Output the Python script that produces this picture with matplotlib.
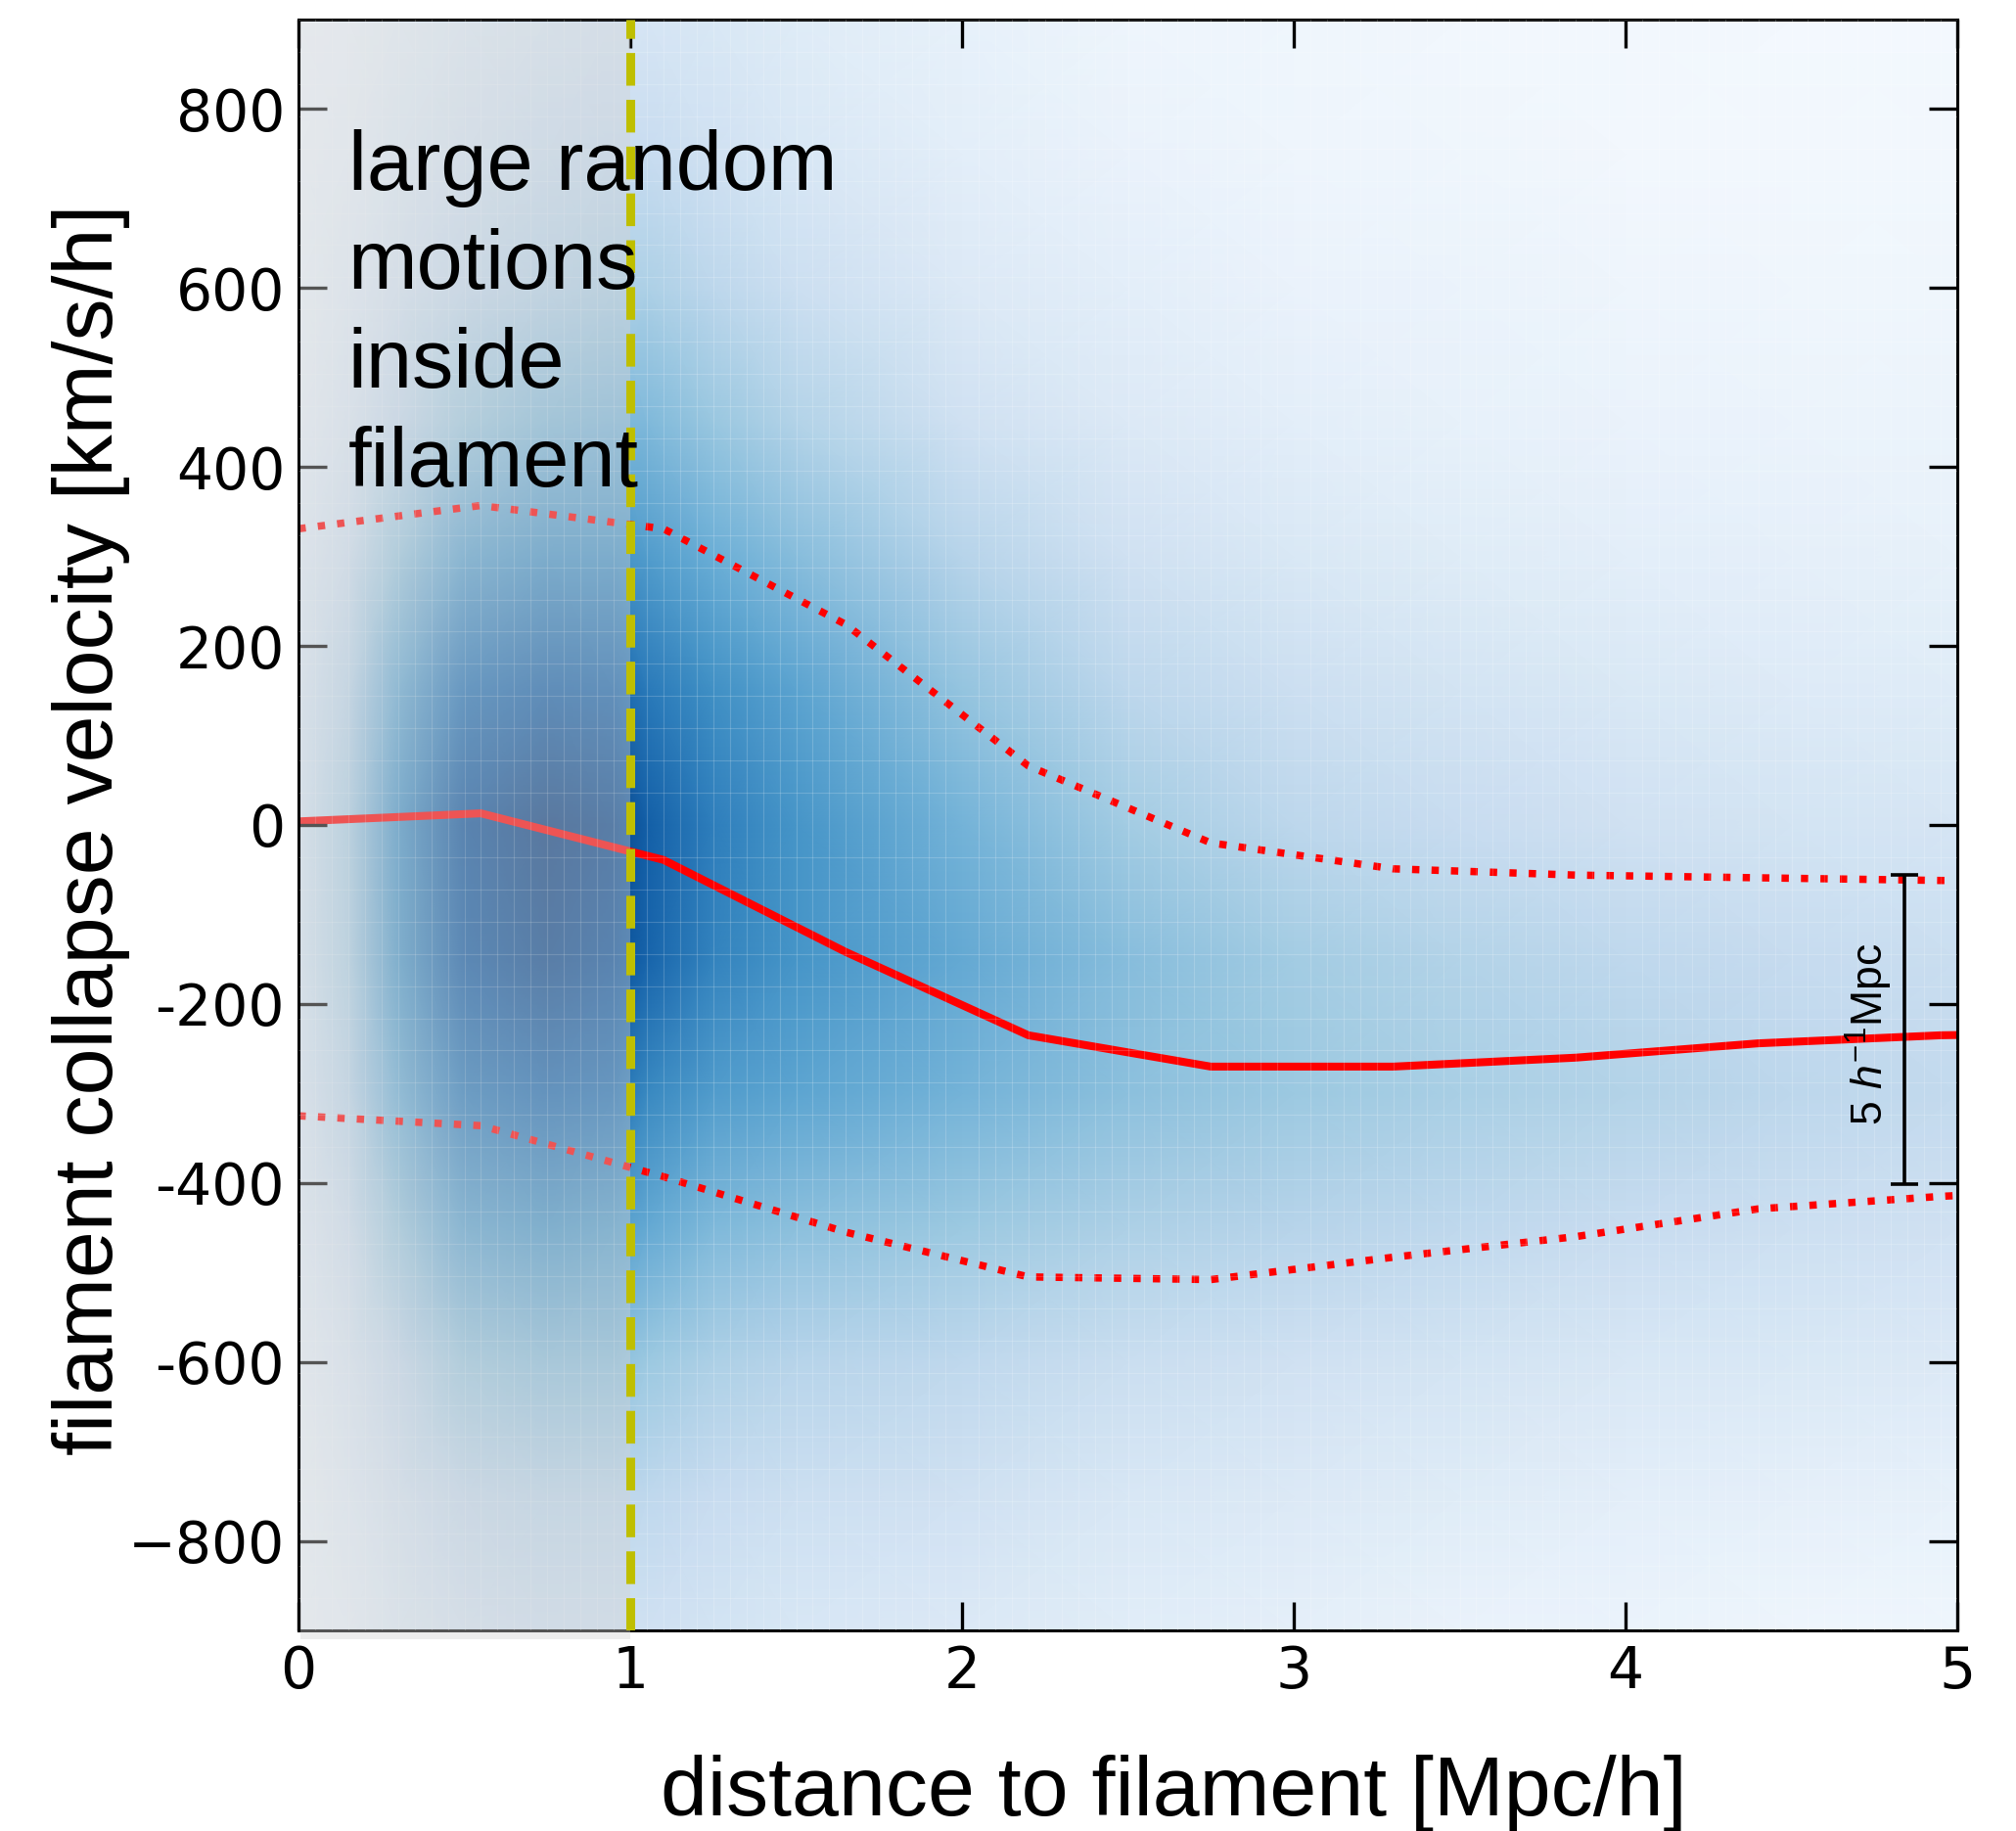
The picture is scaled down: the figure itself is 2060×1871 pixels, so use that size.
import matplotlib
matplotlib.use("Agg")

import matplotlib.pyplot as plt
import matplotlib.transforms as mtransforms
from matplotlib.patches import Rectangle
from matplotlib.ticker import MultipleLocator
import numpy as np


# ======================================================
# Data
# ======================================================

# density of pairs in the (distance, velocity) plane, as a 0..1 shade of Blues
dens_x = [0.0, 0.15, 0.3, 0.5, 0.75, 0.95, 1.05, 1.25, 1.5, 2.0, 2.5, 3.0, 3.5, 4.0, 4.5, 5.0]
dens_v = [-900, -750, -600, -450, -300, -150, 0, 150, 300, 450, 600, 750, 900]
dens = [
    [0.04, 0.07, 0.12, 0.17, 0.20, 0.20, 0.20, 0.18, 0.16, 0.14, 0.11, 0.09, 0.07, 0.06, 0.05, 0.04],
    [0.05, 0.10, 0.17, 0.25, 0.28, 0.28, 0.27, 0.24, 0.22, 0.20, 0.16, 0.14, 0.12, 0.10, 0.09, 0.08],
    [0.07, 0.14, 0.25, 0.38, 0.42, 0.42, 0.38, 0.33, 0.30, 0.27, 0.23, 0.20, 0.18, 0.16, 0.15, 0.14],
    [0.10, 0.20, 0.38, 0.55, 0.60, 0.57, 0.52, 0.45, 0.42, 0.38, 0.33, 0.30, 0.27, 0.24, 0.22, 0.20],
    [0.13, 0.28, 0.50, 0.72, 0.78, 0.75, 0.66, 0.58, 0.54, 0.48, 0.42, 0.38, 0.34, 0.31, 0.28, 0.26],
    [0.15, 0.32, 0.60, 0.85, 0.92, 0.88, 0.80, 0.68, 0.61, 0.52, 0.43, 0.36, 0.31, 0.27, 0.25, 0.23],
    [0.15, 0.33, 0.62, 0.88, 0.95, 0.92, 0.82, 0.70, 0.61, 0.48, 0.36, 0.28, 0.24, 0.20, 0.18, 0.17],
    [0.13, 0.28, 0.52, 0.75, 0.82, 0.80, 0.72, 0.63, 0.55, 0.40, 0.28, 0.22, 0.18, 0.15, 0.13, 0.12],
    [0.10, 0.20, 0.38, 0.55, 0.62, 0.62, 0.58, 0.50, 0.43, 0.30, 0.20, 0.15, 0.12, 0.10, 0.09, 0.08],
    [0.07, 0.14, 0.25, 0.37, 0.44, 0.46, 0.45, 0.39, 0.31, 0.20, 0.14, 0.10, 0.08, 0.07, 0.06, 0.06],
    [0.05, 0.10, 0.17, 0.25, 0.30, 0.33, 0.33, 0.28, 0.22, 0.14, 0.10, 0.07, 0.06, 0.05, 0.04, 0.04],
    [0.04, 0.07, 0.12, 0.17, 0.22, 0.24, 0.24, 0.20, 0.16, 0.10, 0.07, 0.05, 0.04, 0.03, 0.03, 0.03],
    [0.03, 0.05, 0.08, 0.12, 0.15, 0.17, 0.17, 0.15, 0.12, 0.08, 0.05, 0.04, 0.03, 0.03, 0.02, 0.02],
]

# binned mean and +/- 1 sigma of the collapse velocity
dist = [0.0, 0.55, 1.1, 1.65, 2.2, 2.75, 3.3, 3.85, 4.4, 4.95, 5.5]
v_mean = [4, 13, -39, -142, -235, -270, -270, -260, -244, -235, -232]
v_upper = [331, 357, 331, 224, 66, -20, -49, -56, -59, -62, -63]
v_lower = [-325, -336, -393, -455, -505, -508, -483, -460, -429, -415, -405]

filament_radius = 1.0

yticks = [-800, -600, -400, -200, 0, 200, 400, 600, 800]
ytick_labels = ["\u2212800", "-600", "-400", "-200", "0", "200", "400", "600", "800"]
xticks = [0, 1, 2, 3, 4, 5]

# scale bar
bar_x = 4.84
bar_lo, bar_hi = -401, -56


# ======================================================
# Plot
# ======================================================

plt.rcParams["mathtext.fontset"] = "custom"
plt.rcParams["mathtext.rm"] = "Liberation Sans"
plt.rcParams["mathtext.it"] = "Liberation Sans:italic"

fig = plt.figure(figsize=(20.6, 18.71), dpi=100)
ax = fig.add_axes([305 / 2060, 1 - 1666 / 1871, 1695 / 2060, 1646 / 1871])

ax.pcolormesh(
    dens_x, dens_v, np.asarray(dens),
    shading="gouraud", cmap="Blues", vmin=0, vmax=1, zorder=0,
)

ax.plot(dist, v_mean, color="red", linewidth=5.8, zorder=2)
ax.plot(dist, v_upper, ":", color="red", linewidth=5.4, zorder=2)
ax.plot(dist, v_lower, ":", color="red", linewidth=5.4, zorder=2)

# grey veil over the filament interior
trans = mtransforms.blended_transform_factory(ax.transData, ax.transAxes)
ax.add_patch(Rectangle(
    (0.005, -0.0055), filament_radius - 0.005, 1.0035,
    transform=trans, facecolor=(212 / 255, 212 / 255, 212 / 255),
    alpha=0.4, edgecolor="none", clip_on=False, zorder=3,
))

ax.axvline(filament_radius, color="y", linestyle="--", linewidth=6.5, zorder=4)

ax.text(
    0.15, 778, "large random\nmotions\ninside\nfilament",
    fontsize=61, family="Liberation Sans", va="top", ha="left",
    linespacing=1.34, zorder=5,
)

ax.errorbar(
    [bar_x], [(bar_lo + bar_hi) / 2], yerr=[(bar_hi - bar_lo) / 2],
    color="black", elinewidth=2.6, capsize=10, capthick=2.6, zorder=5,
)
ax.text(
    4.735, (bar_lo + bar_hi) / 2 - 5, r"5 $h^{\mathrm{-1}}$Mpc",
    rotation=90, fontsize=32, family="Liberation Sans",
    ha="center", va="center", zorder=5,
)

ax.set_xlim(0, 5)
ax.set_ylim(-900, 900)

ax.set_xticks(xticks)
ax.set_xticklabels([str(t) for t in xticks])
ax.set_yticks(yticks)
ax.set_yticklabels(ytick_labels)

ax.xaxis.set_minor_locator(MultipleLocator(0.05))
ax.yaxis.set_minor_locator(MultipleLocator(36))
ax.grid(which="minor", color="white", alpha=0.18, linewidth=0.8)
ax.set_axisbelow(False)

ax.tick_params(
    which="major", direction="in", length=21, width=2.4,
    top=True, right=True, labelsize=42, pad=10,
)
ax.tick_params(which="minor", length=0, top=True, right=True)
for lab in ax.get_xticklabels() + ax.get_yticklabels():
    lab.set_family("DejaVu Sans")

for spine in ax.spines.values():
    spine.set_linewidth(2.2)

ax.set_xlabel("distance to filament [Mpc/h]", fontsize=62, family="Liberation Sans")
ax.set_ylabel("filament collapse velocity [km/s/h]", fontsize=62, family="Liberation Sans")
ax.xaxis.set_label_coords(0.5274, -0.0772)
ax.yaxis.set_label_coords(-0.1015, 0.497)

fig.savefig("out.png", dpi=100)
